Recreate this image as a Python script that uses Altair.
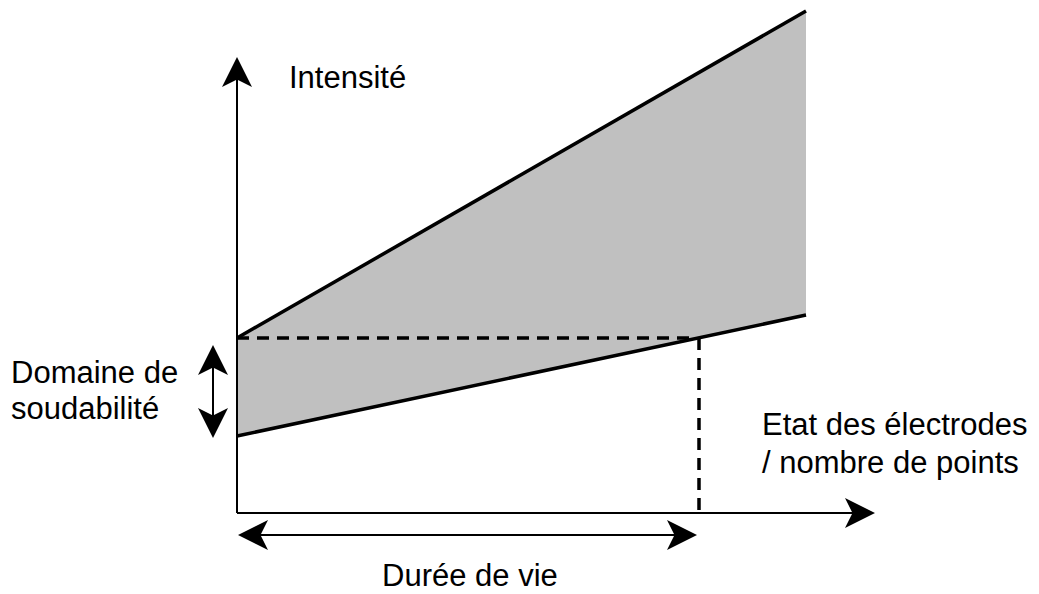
import altair as alt
import pandas as pd

# Diagram coordinates (pixel-like units, y grows downward)
band_x = [237, 806]
band_upper = [338, 11]
band_lower = [436, 315]

axis_x1 = [237, 237]
axis_y1 = [513, 513]
axis_x2 = [237, 858]
axis_y2 = [78, 513]

dash_x1 = [237, 699]
dash_y1 = [338, 338]
dash_x2 = [697, 699]
dash_y2 = [338, 513]

shaft_x1 = [213, 245]
shaft_y1 = [350, 535]
shaft_x2 = [213, 690]
shaft_y2 = [433, 535]

head_x = [237, 860, 213, 213, 253, 682]
head_y = [72, 513, 360, 423, 535, 535]
head_angle = [0, 90, 0, 180, 270, 90]

label_text = ["Intensité", "Domaine de", "soudabilité", "Etat des électrodes",
              "/ nombre de points", "Durée de vie"]
label_x = [289, 11, 11, 762, 762, 382]
label_y = [88, 383, 419, 435, 473, 586]

W, H = 1023, 578
xs = alt.Scale(domain=[8, 8 + W], nice=False, zero=False)
ys = alt.Scale(domain=[8 + H, 8], nice=False, zero=False)

band = pd.DataFrame({"x": band_x, "top": band_upper, "bot": band_lower})
area = alt.Chart(band).mark_area(color="#c0c0c0", opacity=1).encode(
    x=alt.X("x:Q", scale=xs, axis=None),
    y=alt.Y("top:Q", scale=ys, axis=None),
    y2="bot:Q",
)

lines_df = pd.DataFrame({
    "x": band_x + band_x,
    "y": band_upper + band_lower,
    "s": ["u", "u", "l", "l"],
})
bounds = alt.Chart(lines_df).mark_line(color="black", strokeWidth=3.5).encode(
    x=alt.X("x:Q", scale=xs, axis=None),
    y=alt.Y("y:Q", scale=ys, axis=None),
    detail="s:N",
)

def rules(x1, y1, x2, y2, width, dash=None):
    df = pd.DataFrame({"x": x1, "y": y1, "x2": x2, "y2": y2})
    kw = dict(color="black", strokeWidth=width)
    if dash:
        kw["strokeDash"] = dash
    return alt.Chart(df).mark_rule(**kw).encode(
        x=alt.X("x:Q", scale=xs, axis=None),
        y=alt.Y("y:Q", scale=ys, axis=None),
        x2="x2:Q",
        y2="y2:Q",
    )

axes = rules(axis_x1, axis_y1, axis_x2, axis_y2, 2)
dashes = rules(dash_x1, dash_y1, dash_x2, dash_y2, 3.5, [12, 8])
shafts = rules(shaft_x1, shaft_y1, shaft_x2, shaft_y2, 2)

heads_df = pd.DataFrame({"x": head_x, "y": head_y, "a": head_angle})
heads = alt.Chart(heads_df).mark_point(
    shape="M0,-1 L1,1 L0,0.5 L-1,1 Z",
    filled=True, color="black", opacity=1, size=900, strokeWidth=0,
).encode(
    x=alt.X("x:Q", scale=xs, axis=None),
    y=alt.Y("y:Q", scale=ys, axis=None),
    angle=alt.Angle("a:Q", scale=None),
)

labels_df = pd.DataFrame({"t": label_text, "x": label_x, "y": label_y})
labels = alt.Chart(labels_df).mark_text(
    align="left", baseline="alphabetic", font="Liberation Sans",
    fontSize=31, color="black",
).encode(
    x=alt.X("x:Q", scale=xs, axis=None),
    y=alt.Y("y:Q", scale=ys, axis=None),
    text="t:N",
)

chart = alt.layer(area, bounds, dashes, axes, shafts, heads, labels).properties(
    width=W, height=H,
    autosize=alt.AutoSizeParams(type="none"),
    padding=0,
    background="white",
).configure_view(stroke=None)

chart.save("out.html", embed_options={"renderer": "svg", "actions": False})
